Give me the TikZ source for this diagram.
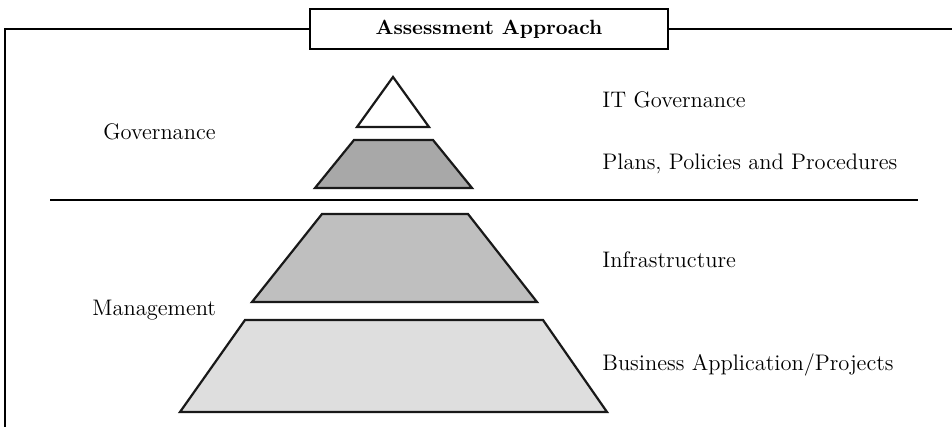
\documentclass[tikz,border=0pt]{standalone}
\usepackage{tikz}
\usetikzlibrary{positioning}
\tikzset{frameline/.style = {line width=1.2pt, black},
         layer/.style = {draw=black!90, line width=1.1pt, line join=miter},
         label/.style = {inner sep=0pt, anchor=base west, font=\fontsize{11.25}{13}\selectfont}}

\begin{document}
\begin{tikzpicture}[x=0.5pt, y=-0.5pt]
      \useasboundingbox (0,0) rectangle (952,427);

      % frame and title
      \node [draw, frameline, fill=white, minimum width=179pt, minimum height=20pt,
             inner sep=0pt, font=\bfseries\fontsize{10.3}{12}\selectfont] (title) at (489,29) {Assessment Approach};
      \coordinate (frameL) at (5,427);
      \coordinate (frameR) at (952,29);
      \draw [frameline] (title.west) -| (frameL);
      \draw [frameline] (title.east) -- (frameR);

      \coordinate (divL) at (50,200);
      \coordinate (divR) at (918,200);
      \draw [line width=1pt] (divL) -- (divR);

      % pyramid
      \draw [layer, fill=white] (357,127) -- (393,77) -- (429,127) -- cycle;
      \draw [layer, fill=black!34] (315,188) -- (354,140) -- (433,140) -- (472,188) -- cycle;
      \draw [layer, fill=black!25] (252,302) -- (322,214) -- (468,214) -- (537,302) -- cycle;
      \draw [layer, fill=black!13] (180,412) -- (245,320) -- (543,320) -- (607,412) -- cycle;

      \node [label] (itgov) at (602,108) {IT Governance};
      \node [label] (plans) at (602,170) {Plans, Policies and Procedures};
      \node [label] (infra) at (602,267) {Infrastructure};
      \node [label] (busapp) at (602,370) {Business Application/Projects};
      \node [label] (gov) at (103,140) {Governance};
      \node [label] (mgmt) at (92,315) {Management};
\end{tikzpicture}
\end{document}
